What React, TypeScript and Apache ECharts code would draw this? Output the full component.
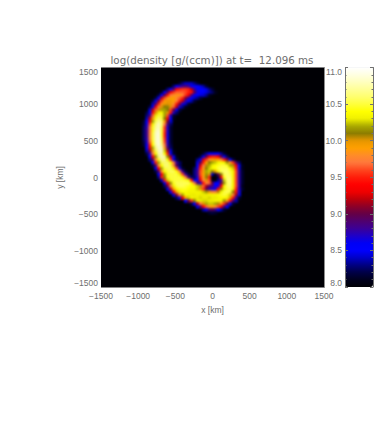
import React, { useEffect, useRef } from "react";
import * as echarts from "echarts";

const titleText = "log(density [g/(ccm)]) at t=  12.096 ms";
const xName = "x [km]";
const yName = "y [km]";
const xCenters: number[] = [];
const yCenters: number[] = [];
for (let v = -1480; v <= 1480; v += 40) { xCenters.push(v); yCenters.push(v); }

// Density samples, by strip: [y km, x km of first sample, log density...]
const plumeAndArm: [number, number, number[]][] = [
  [1280, -440, [8.15, 8.3, 8.4, 8.4, 8.4, 8.3, 8.15]],
  [1240, -520, [8.3, 8.5, 8.7, 8.8, 8.9, 8.8, 8.6, 8.5, 8.5, 8.45, 8.35, 8.15]],
  [1200, -600, [8.3, 8.55, 8.9, 9.4, 9.5, 9.55, 9.55, 9.5, 9.2, 8.8, 8.55, 8.5, 8.5, 8.45, 8.3, 8.15]],
  [1160, -680, [8.15, 8.5, 8.9, 9.3, 9.55, 9.65, 9.65, 9.65, 9.6, 9.5, 9.45, 9.0, 8.65, 8.5, 8.5, 8.45, 8.35, 8.25, 8.1]],
  [1120, -720, [8.2, 8.5, 9.0, 9.45, 9.7, 9.8, 9.85, 9.85, 9.75, 9.55, 9.3, 8.9, 8.6, 8.5, 8.45, 8.4, 8.3, 8.1]],
  [1080, -760, [8.2, 8.5, 9.2, 9.6, 9.85, 9.9, 9.9, 9.8, 9.65, 9.5, 9.1, 8.75, 8.5, 8.4, 8.3, 8.15]],
  [1040, -800, [8.2, 8.5, 9.1, 9.6, 9.9, 9.95, 9.95, 9.9, 9.75, 9.5, 9.2, 8.75, 8.5, 8.35, 8.15]],
  [1000, -800, [8.4, 8.9, 9.5, 9.85, 9.95, 10.0, 9.95, 9.8, 9.5, 9.1, 8.65, 8.4, 8.15]],
  [960, -840, [8.2, 8.6, 9.35, 9.75, 10.0, 10.1, 10.12, 10.0, 9.65, 9.2, 8.65, 8.3, 8.1]],
  [920, -840, [8.45, 9.2, 9.65, 10.0, 10.2, 10.2, 10.1, 9.6, 9.05, 8.5, 8.2]],
  [880, -880, [8.2, 8.6, 9.45, 10.0, 10.35, 10.4, 10.2, 10.0, 9.45, 8.7, 8.25]],
  [840, -880, [8.3, 8.85, 9.65, 10.3, 10.5, 10.45, 10.2, 9.6, 8.7, 8.15]],
  [800, -880, [8.4, 9.2, 9.95, 10.45, 10.6, 10.5, 10.1, 9.35, 8.5, 8.1]],
  [760, -920, [8.15, 8.55, 9.4, 10.2, 10.55, 10.7, 10.6, 9.9, 9.05, 8.4]],
  [720, -920, [8.2, 8.65, 9.6, 10.35, 10.65, 10.8, 10.6, 9.7, 8.85, 8.25]],
  [680, -920, [8.25, 8.75, 9.7, 10.45, 10.7, 10.8, 10.55, 9.55, 8.7, 8.15]],
  [640, -920, [8.25, 8.8, 9.7, 10.45, 10.75, 10.85, 10.5, 9.55, 8.7, 8.15]],
  [600, -920, [8.25, 8.8, 9.75, 10.5, 10.8, 10.9, 10.5, 9.5, 8.65, 8.15]],
  [560, -920, [8.25, 8.8, 9.75, 10.5, 10.8, 10.9, 10.5, 9.5, 8.65, 8.15]],
  [520, -920, [8.25, 8.75, 9.75, 10.5, 10.8, 10.9, 10.55, 9.55, 8.65, 8.15]],
  [480, -920, [8.2, 8.7, 9.65, 10.45, 10.8, 10.9, 10.6, 9.6, 8.7, 8.15]],
  [440, -920, [8.15, 8.6, 9.5, 10.4, 10.75, 10.9, 10.65, 9.7, 8.75, 8.2]],
  [400, -880, [8.5, 9.35, 10.2, 10.65, 10.85, 10.8, 9.85, 8.9, 8.25]],
  [360, -880, [8.4, 9.1, 9.95, 10.55, 10.8, 10.85, 10.25, 9.15, 8.45, 8.1]],
  [320, -880, [8.2, 8.75, 9.7, 10.4, 10.75, 10.8, 10.4, 9.5, 8.6, 8.15]],
  [280, -840, [8.55, 9.35, 10.15, 10.65, 10.8, 10.7, 10.15, 9.15, 8.5, 8.1]],
  [240, -840, [8.3, 8.95, 9.8, 10.45, 10.7, 10.7, 10.4, 9.55, 8.65, 8.2]],
  [200, -800, [8.6, 9.5, 10.2, 10.55, 10.6, 10.6, 10.4, 9.7, 8.8, 8.25]],
  [160, -800, [8.2, 8.9, 9.8, 10.4, 10.6, 10.6, 10.5, 9.8, 8.95, 8.25]],
  [120, -760, [8.55, 9.4, 10.2, 10.5, 10.55, 10.55, 10.35, 9.6, 8.7, 8.15]],
  [80, -760, [8.2, 8.9, 9.8, 10.4, 10.5, 10.55, 10.55, 10.4, 9.7, 8.8, 8.15]],
  [40, -720, [8.5, 9.4, 10.2, 10.45, 10.5, 10.5, 10.5, 10.3, 9.6, 8.8, 8.2]],
  [0, -720, [8.3, 9.5, 10.1, 10.45, 10.5, 10.5, 10.5, 10.5, 10.35, 9.7, 8.9, 8.25]],
  [-40, -680, [8.4, 9.5, 10.25, 10.45, 10.5, 10.5, 10.5, 10.5, 10.45, 10.35, 9.45, 8.6]],
];

const innerSpiral: [number, number, number[]][] = [
  [320, -120, [8.15, 8.35, 8.5, 8.55, 8.55, 8.5, 8.35, 8.15]],
  [280, -160, [8.2, 8.55, 9.0, 9.4, 9.5, 9.5, 9.4, 9.0, 8.55, 8.25]],
  [240, -200, [8.3, 8.6, 9.25, 9.55, 9.8, 9.9, 9.95, 9.9, 9.75, 9.5, 9.1, 8.55, 8.2]],
  [200, -200, [8.45, 8.95, 9.5, 9.9, 10.1, 10.2, 10.25, 10.35, 10.4, 10.35, 10.15, 9.85, 9.55, 8.9, 8.25]],
  [160, -200, [8.55, 9.25, 9.7, 10.05, 10.2, 10.3, 10.4, 10.45, 10.5, 10.5, 10.45, 10.2, 10.05, 9.35, 8.55, 8.1]],
  [120, -240, [8.25, 8.7, 9.5, 9.85, 10.1, 10.25, 10.35, 10.4, 10.5, 10.55, 10.55, 10.55, 10.4, 10.25, 9.5, 8.65, 8.1]],
  [80, -240, [8.3, 8.8, 9.6, 9.95, 10.2, 10.25, 10.1, 10.0, 10.35, 10.55, 10.6, 10.6, 10.5, 10.35, 9.6, 8.75, 8.15]],
  [40, -240, [8.3, 8.8, 9.6, 9.9, 10.15, 10.0, 8.4, 8.1, 9.0, 10.1, 10.55, 10.6, 10.55, 10.35, 9.6, 8.75, 8.15]],
  [0, -240, [8.25, 8.7, 9.5, 9.85, 10.1, 9.5, 8.0, 8.0, 8.2, 9.4, 10.45, 10.6, 10.6, 10.35, 9.6, 8.75, 8.15]],
  [-40, -200, [8.6, 9.3, 9.75, 10.0, 9.6, 8.1, 8.0, 8.3, 8.8, 10.25, 10.6, 10.65, 10.35, 9.6, 8.75, 8.15]],
];

const lowerCurve: [number, number, number[]][] = [
  [-80, -640, [8.6, 9.4, 10.15, 10.45, 10.55, 10.55, 10.55, 10.55, 10.55, 10.35, 9.7, 8.9, 8.65, 9.45, 9.75, 9.65, 9.0, 8.5, 8.5, 9.0, 10.15, 10.55, 10.65, 10.35, 9.6, 8.75, 8.15]],
  [-120, -640, [8.25, 9.0, 9.7, 10.3, 10.5, 10.55, 10.55, 10.5, 10.45, 10.4, 10.35, 10.25, 10.05, 9.65, 9.15, 8.95, 8.85, 8.5, 8.65, 9.4, 10.35, 10.55, 10.6, 10.35, 9.6, 8.75, 8.1]],
  [-160, -600, [8.45, 9.2, 9.9, 10.35, 10.45, 10.45, 10.45, 10.4, 10.35, 10.35, 10.25, 10.0, 9.55, 9.0, 8.75, 8.65, 8.65, 9.4, 10.1, 10.35, 10.5, 10.55, 10.3, 9.5, 8.7, 8.15]],
  [-200, -560, [8.55, 9.3, 9.9, 10.3, 10.4, 10.4, 10.35, 10.35, 10.35, 10.35, 10.35, 10.25, 10.15, 9.95, 9.75, 9.75, 10.05, 10.35, 10.5, 10.55, 10.5, 10.1, 9.45, 8.65]],
  [-240, -520, [8.45, 9.1, 9.7, 10.2, 10.35, 10.35, 10.3, 10.3, 10.35, 10.3, 10.3, 10.3, 10.35, 10.35, 10.35, 10.4, 10.45, 10.5, 10.45, 10.25, 9.75, 9.15, 8.45]],
  [-280, -480, [8.25, 8.7, 9.3, 9.9, 10.25, 10.35, 10.3, 10.3, 10.27, 10.3, 10.3, 10.27, 10.3, 10.3, 10.35, 10.4, 10.4, 10.35, 9.95, 9.45, 8.75, 8.15]],
  [-320, -360, [8.5, 9.0, 9.55, 10.1, 10.3, 10.3, 10.27, 10.27, 10.3, 10.3, 10.35, 10.35, 10.35, 10.15, 9.85, 9.45, 8.85, 8.35]],
  [-360, -280, [8.2, 8.55, 9.2, 9.7, 10.0, 10.2, 10.25, 10.25, 10.2, 10.05, 9.85, 9.55, 9.05, 8.55, 8.15]],
  [-400, -200, [8.45, 8.9, 9.4, 9.65, 9.85, 9.9, 9.8, 9.6, 9.3, 8.85, 8.45]],
  [-440, -120, [8.35, 8.65, 8.9, 9.0, 8.85, 8.55, 8.35, 8.15]],
  [-480, -40, [8.15, 8.2, 8.15]],
];

const rampColors = [
  "#000005", "#00001e", "#000046", "#000082", "#0000c8", "#0000ff", "#0000f5", "#1e00c8", "#3c0096", "#50006e", "#640046",
  "#8c0028", "#be000a", "#f00000", "#ff0000", "#ff1e0a", "#ff461e", "#ff783c", "#ff8c28", "#ffa000", "#e69600",
  "#8c7d00", "#aaaa00", "#f0f000", "#ffff00", "#ffff3c", "#ffff6e", "#ffff96", "#ffffbe", "#ffffe1", "#ffffff",
];

const cells: number[][] = [];
for (const strip of [...plumeAndArm, ...innerSpiral, ...lowerCurve]) {
  const [yKm, xStart, values] = strip;
  values.forEach((v, i) => {
    cells.push([(xStart + 40 * i + 1480) / 40, (yKm + 1480) / 40, v]);
  });
}

const TEXT = "#6e6e6e";
const FONT = "'Liberation Sans', sans-serif";
const fmt = (v: number) => String(v).replace("-", "\u2212");
const barGrid = { left: 345, top: 67.5, width: 28, height: 219.5 };

// Soften the cell edges the way the resampled original is soft.
function softenCells(root: HTMLElement) {
  const svg = root.querySelector("svg");
  if (!svg) return;
  const ns = "http://www.w3.org/2000/svg";
  const defs = document.createElementNS(ns, "defs");
  const filter = document.createElementNS(ns, "filter");
  filter.setAttribute("id", "cellSoften");
  filter.setAttribute("filterUnits", "userSpaceOnUse");
  filter.setAttribute("x", "101");
  filter.setAttribute("y", "67");
  filter.setAttribute("width", "223");
  filter.setAttribute("height", "221");
  filter.setAttribute("color-interpolation-filters", "sRGB");
  const blur = document.createElementNS(ns, "feGaussianBlur");
  blur.setAttribute("stdDeviation", "0.8");
  filter.appendChild(blur);
  defs.appendChild(filter);
  svg.appendChild(defs);
  const group = document.createElementNS(ns, "g");
  group.setAttribute("filter", "url(#cellSoften)");
  const paths = Array.from(svg.querySelectorAll("path")) as SVGPathElement[];
  const picked = paths.filter((p) => {
    const fill = p.getAttribute("fill");
    if (!fill || fill === "none") return false;
    const b = p.getBBox();
    return b.width > 2 && b.width < 5 && b.height > 2 && b.height < 5 && b.x > 101 && b.x < 324;
  });
  if (!picked.length) return;
  picked[0].parentNode!.insertBefore(group, picked[0]);
  picked.forEach((p) => group.appendChild(p));
}

export default function App() {
  const ref = useRef<HTMLDivElement>(null);
  useEffect(() => {
    const chart = echarts.init(ref.current!, undefined, { renderer: "svg" });
    const valueAxisBase = { min: -1500, max: 1500, interval: 500, splitLine: { show: false } };
    chart.setOption({
      animation: false,
      backgroundColor: "#ffffff",
      textStyle: { fontFamily: FONT },
      title: {
        text: titleText,
        left: 212,
        top: 55,
        padding: 0,
        textAlign: "center",
        textStyle: { fontSize: 10.3, fontWeight: "normal", color: TEXT, fontFamily: "'DejaVu Sans', sans-serif" },
      },
      grid: [
        { left: 101, top: 67.5, width: 223, height: 220, show: true, backgroundColor: "#000005", borderWidth: 0 },
        { ...barGrid },
      ],
      xAxis: [
        { type: "category", data: xCenters, show: false, gridIndex: 0 },
        {
          ...valueAxisBase, type: "value", gridIndex: 0, position: "bottom",
          name: xName, nameLocation: "middle", nameGap: 18, nameMoveOverlap: false,
          nameTextStyle: { fontSize: 8.5, color: TEXT, fontFamily: FONT },
          axisLine: { show: false }, axisTick: { show: false },
          axisLabel: { fontSize: 8.5, color: TEXT, margin: 4, formatter: fmt, showMaxLabel: true, showMinLabel: true, hideOverlap: false },
        },
        { type: "value", gridIndex: 1, min: 0, max: 1, show: false },
      ],
      yAxis: [
        { type: "category", data: yCenters, show: false, gridIndex: 0 },
        {
          ...valueAxisBase, type: "value", gridIndex: 0, position: "left",
          name: yName, nameLocation: "middle", nameGap: 37, nameMoveOverlap: false,
          nameTextStyle: { fontSize: 8.5, color: TEXT, fontFamily: FONT },
          axisLine: { show: false }, axisTick: { show: false },
          axisLabel: {
            fontSize: 8.5, color: TEXT, margin: 3, formatter: fmt, showMaxLabel: true, showMinLabel: true, hideOverlap: false,
            verticalAlignMaxLabel: "top", verticalAlignMinLabel: "bottom",
          },
        },
        {
          ...valueAxisBase, type: "value", gridIndex: 0, position: "right",
          axisLine: { show: true, onZero: false, lineStyle: { color: "#8c8c8c", width: 1 } },
          axisTick: { show: false }, axisLabel: { show: false },
        },
        {
          type: "value", gridIndex: 1, position: "left", min: 8, max: 11, interval: 0.5, z: 6,
          splitLine: { show: false },
          axisLine: { show: true, onZero: false, lineStyle: { color: "#707070", width: 1 } },
          axisTick: { show: true, inside: true, length: 3, lineStyle: { color: "#707070" } },
          minorTick: { show: true, splitNumber: 5, length: 1.5, lineStyle: { color: "#707070" } },
          axisLabel: {
            fontSize: 8.5, color: TEXT, margin: 3, inside: false, formatter: (v: number) => v.toFixed(1),
            showMaxLabel: true, showMinLabel: true, hideOverlap: false,
            verticalAlignMaxLabel: "top", verticalAlignMinLabel: "bottom",
          },
        },
        {
          type: "value", gridIndex: 1, position: "right", min: 8, max: 11, interval: 0.5, z: 6,
          splitLine: { show: false },
          axisLine: { show: true, onZero: false, lineStyle: { color: "#707070", width: 1 } },
          axisTick: { show: true, inside: true, length: 3, lineStyle: { color: "#707070" } },
          minorTick: { show: true, splitNumber: 5, length: 1.5, lineStyle: { color: "#707070" } },
          axisLabel: { show: false },
        },
      ],
      visualMap: {
        type: "continuous",
        seriesIndex: 0,
        min: 8,
        max: 11,
        calculable: false,
        hoverLink: false,
        left: barGrid.left,
        top: barGrid.top,
        itemWidth: barGrid.width,
        itemHeight: barGrid.height,
        padding: 0,
        text: ["", ""],
        showLabel: false,
        inRange: { color: rampColors },
      },
      series: [
        {
          type: "heatmap",
          xAxisIndex: 0,
          yAxisIndex: 0,
          data: cells,
          silent: true,
          progressive: 0,
          itemStyle: { borderWidth: 0 },
        },
      ],
    });
    softenCells(ref.current!);
    return () => chart.dispose();
  }, []);
  return (
    <div
      ref={ref}
      style={{ position: "fixed", left: 0, top: 0, width: 382, height: 424, background: "#fff" }}
    />
  );
}
